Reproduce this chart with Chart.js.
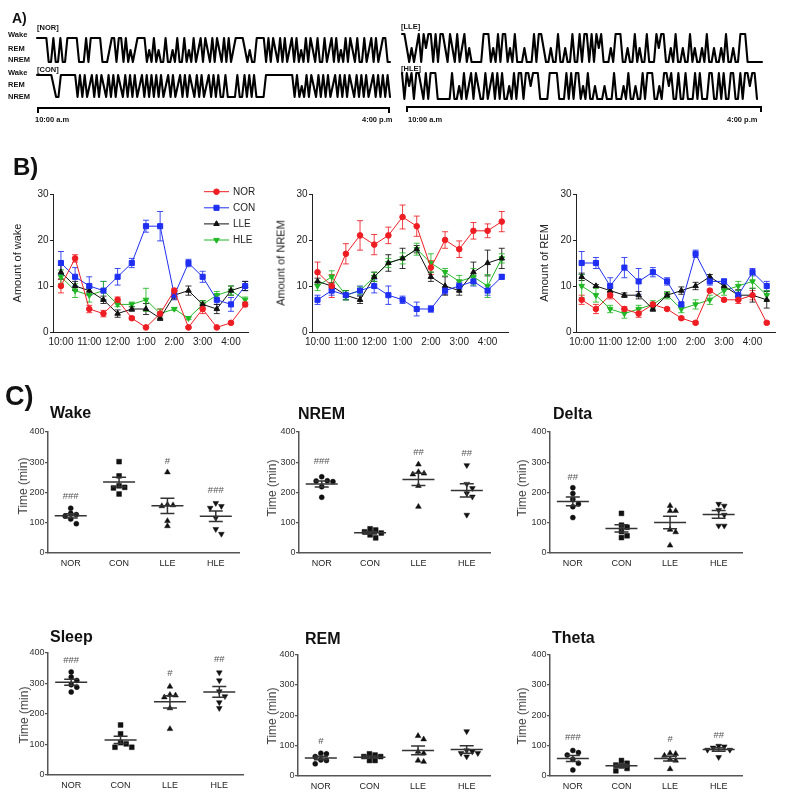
<!DOCTYPE html>
<html><head><meta charset="utf-8">
<script src="https://cdn.jsdelivr.net/npm/chart.js@4.4.0/dist/chart.umd.min.js"></script>
<style>
html,body{margin:0;padding:0;background:#fff;}
#page{position:relative;width:789px;height:802px;overflow:hidden;font-family:'Liberation Sans',Arial,Helvetica,sans-serif;background:#fff;}
canvas.full{position:absolute;left:0;top:0;}
.t{position:absolute;white-space:nowrap;line-height:1;color:#111;}
.rot{transform:translate(-50%,-50%) rotate(-90deg);}
.br{position:absolute;box-sizing:border-box;border:2px solid #000;border-bottom:none;height:6px;}
</style></head>
<body><div id="page"></div>
<script>
// ---------------- DATA ----------------
// Panel A hypnograms (2 = Wake, 1 = REM, 0 = NREM)
const norStates = [2,2,2,2,2, 0,0,2,0,0,2,0,0,2, 2,2,2,2, 0,0,0,2,0, 2,2,2,2,2,0,
 0,0,1,2,2,0,2,2,0,2, 0,1,0,1, 2,2,2,2, 0,1,0,2,0,1,0, 0,2,0,0,1,0,2,0,0,2,0,1,
 0,2,0,1,2,0,2,1,0,2,0,2,1,0,2,0,2,0,1,2, 2,2,2,1, 0,1,0,0, 2,2,2,2,
 0,2,0,2,1,0,2,0,2,0,1,2,0,
 2,0,1,0,2,0,2,1,0,2,0,0,2,0,1,2,0,2,0,1,0,2,0,2,1,0,2,0,0,2,0,1,2,0,2,0,1,2,2,0,0];
const conStates = [2,2,2,2,2,2,2, 1,0,0, 2,2,2,2,2,2,2, 0,
 2,0,2,0,1,2,0,2,0,2,1,0,2,0,2,0,2,1,0,2,0,2,0,2,0,1,2,0,2,0,2,0,2,
 0,2,0,1,2,0,2,0,1,2,0,2,0,2,1,0,2,0,2,0,1,2,0,2,0,2,0,0,2,0,0,
 0,0,2,0,0,2,0,2,0,2,0,0,0,0, 2,2,2,2,2,2,2,2,2,2,2,2,
 0,2,0,1,0,2,0,2,1,0,2,0,2,0,2,0,1,2,0,2,0,2,0,2,1,0,2,0,2,0,2,0,1,2,0,2,0,2,0,2,0];
const lleStates = [2,2,1, 0,1,0,1,2,0,2,1,2,2,0,2,0,2,2,1,0,2,1,0,2,0,1,2,0,1,0,0, 0,0,0,
 2,2,2,0, 1,0,2,0, 2,2,0, 1,0,2,0,0, 0,1,0,0,0, 2,0, 2,2,1,0,
 0,1,0,0,2,0,0,1,0,0,2,0,0, 2,0, 2,2,0, 2,0,2,1,2,0, 0,0,1,0, 2,2,2,0,
 0,1,0,0,2,0,1,0,0,2,0,0,0, 2,1,2,2,0,
 0,1,0,2,0,0,1,0,0,2,0,1,0,0,1,0,2,0,0,1,0,0,1,0,2,0,0,1,0,0, 2,2,2,0, 0,0,0,0,0,0];
const hleStates = [2,0,2,1,2,0,2,2,1,0,2,0, 2,2,2,0, 0,0,0,0,0, 2,0, 0,1,0,2,0,1, 2,0,2,1,0,
 0,2,0,1,2,0,2,0,2,0, 0,1,0, 2,0,2,2,0,2,2,1,2,2,2,0, 0,0,0, 2,2,2,2,0,0, 0,2,0,
 2,0,2,2,0,1, 0,2,0,0,1,0, 0,0,1,0,0,0,2,0,0,0,1,0, 2,0, 0,1,0,0,2,0, 2,2,2,0, 0,1,0,
 2,2,1,2,0, 0,2,0,0,2,0,0,0,2,0,2,0,0,0,2,2,0,0,2,0,2,0,0,2,2,0,0,2,0, 2,2,1,2,2,0];

// Panel B (half-hour bins 10:00 ... 4:30)
const hourTicks = [0,2,4,6,8,10,12];
const hourLabels = ['10:00','11:00','12:00','1:00','2:00','3:00','4:00'];
const seriesNames = ['NOR','CON','LLE','HLE'];

const wakeNOR = [10,16,5,4,7,3,1,4,9,1,5,1,2,6];
const wakeNORe = [1.5,0.8,0.8,0.7,0.6,0.3,0.2,1,0.5,0.2,1,0.2,0.3,0.5];
const wakeCON = [15,12,10,9,12,15,23,23,8,15,12,7,6,10];
const wakeCONe = [2.5,2,2,2,1.8,1,1.3,3.2,1,0.8,1.2,1,1.5,1];
const wakeLLE = [13,10,9,7,4,5,5,3,8,9,6,5,9,10];
const wakeLLEe = [1.5,1,0.8,0.8,0.8,0.5,1.2,0.5,0.8,1,0.8,1,1,1];
const wakeHLE = [12,9,8,9,6,6,7,4,5,3,6,8,9,7];
const wakeHLEe = [1.5,1.5,1.5,2,0.5,0.5,2.5,1,0.3,0.3,0.8,0.8,1,0.6];

const nremNOR = [13,10,17,21,19,21,25,23,14,20,18,22,22,24];
const nremNORe = [2.2,2.5,2.2,3.2,2.2,1.8,2.6,2.2,1.5,1.8,1.8,1.8,1.5,2.2];
const nremCON = [7,9,8,9,10,8,7,5,5,9,10,11,9,12];
const nremCONe = [1,1,1,1,1.5,2,0.8,1.5,0.7,0.8,0.8,1,1,0.5];
const nremLLE = [11,10,8,7,12,15,16,18,12,10,9,13,15,16];
const nremLLEe = [0.7,0.7,1,0.8,1,1.8,2.2,0.8,1,2,1,2.2,2.8,2.2];
const nremHLE = [10,12,8,9,12,15,16,18,15,13,11,12,10,16];
const nremHLEe = [1,1.3,1,0.8,1,1,1.2,1.3,2,0.8,1.3,1.8,2.5,1];

const remNOR = [7,5,8,5,4,6,5,3,2,9,7,7,8,2];
const remNORe = [1,1,0.8,0.5,0.8,0.3,0.3,0.3,0.3,0.3,0.3,0.8,1,0.3];
const remCON = [15,15,10,14,11,13,11,6,17,11,11,8,13,10];
const remCONe = [2.5,1.2,1.8,2.2,2.8,1,0.8,0.5,0.8,0.8,0.5,1,0.8,1];
const remLLE = [12,10,9,8,8,5,8,9,10,12,10,8,8,7];
const remLLEe = [0.8,0.3,0.5,0.5,0.8,0.5,0.5,0.8,0.8,0.5,0.5,1.2,1.5,1.8];
const remHLE = [10,8,5,4,5,6,8,5,6,7,9,10,11,8];
const remHLEe = [2.5,1.5,0.8,1,0.8,0.8,0.8,0.8,1,1,1,1,1.5,1];

// Panel C (minutes per animal; groups NOR, CON, LLE, HLE)
const groups = ['NOR','CON','LLE','HLE'];
const cTicks = [0,100,200,300,400];
const wakePts  = [[148,131,127,122,112,97],[302,255,222,217,215,195],[267,160,158,155,106,89],[165,155,149,116,79,63]];
const wakeMarks = ['###','','#','###'];
const wakeMarkY = [188,0,302,208];
const nremPts  = [[252,239,238,236,219,184],[80,76,70,66,60,50],[293,268,263,260,222,153],[290,228,214,197,186,126]];
const nremMarks = ['###','','##','##'];
const nremMarkY = [304,0,331,329];
const deltaPts = [[216,197,178,162,153,117],[131,92,85,71,57,51],[156,139,139,77,69,25],[162,156,142,126,90,90]];
const deltaMarks = ['##','','',''];
const deltaMarkY = [250,0,0,0];
const sleepPts = [[338,321,310,296,288,272],[164,135,106,102,91,91],[290,263,261,255,219,151],[336,310,274,258,238,219]];
const sleepMarks = ['###','','#','##'];
const sleepMarkY = [376,0,332,378];
const remPts   = [[75,73,64,53,51,40],[73,69,64,64,51,51],[132,121,80,75,51,47],[147,84,80,75,75,64]];
const remMarks = ['#','','',''];
const remMarkY = [113,0,0,0];
const thetaPts = [[84,77,69,55,42,20],[51,42,36,33,25,17],[75,73,67,55,51,23],[99,97,93,86,86,62]];
const thetaMarks = ['###','','#','##'];
const thetaMarkY = [127,0,122,133];

// ---------------- RENDER ----------------
const W = 789, H = 802;
const page = document.getElementById('page');
const FONT = "'Liberation Sans', Arial, Helvetica, sans-serif";
Chart.defaults.font.family = FONT;
Chart.defaults.animation = false;

function mkCanvas(){ const c=document.createElement('canvas'); c.width=W; c.height=H; c.className='full'; page.appendChild(c); return c; }
function baseOpts(){ return {responsive:false, devicePixelRatio:1, events:[], plugins:{legend:{display:false}, tooltip:{enabled:false}}}; }
function txt(s, x, y, size, opt){
  opt = opt||{};
  const d=document.createElement('div'); d.className='t'+(opt.rot?' rot':''); d.textContent=s;
  d.style.left=x+'px'; d.style.top=y+'px'; d.style.fontSize=size+'px';
  if(opt.bold) d.style.fontWeight='bold';
  if(opt.color) d.style.color=opt.color;
  page.appendChild(d); return d;
}
function bracket(l, t, w){ const d=document.createElement('div'); d.className='br'; d.style.left=l+'px'; d.style.top=t+'px'; d.style.width=w+'px'; page.appendChild(d); }

// ---- Panel A ----
function hypno(area, states){
  const o = baseOpts();
  o.layout = {padding:{left:area.l, top:area.t, right:W-area.r, bottom:H-area.b}};
  o.scales = {x:{type:'linear', display:false, min:0, max:states.length-1}, y:{type:'linear', display:false, min:0, max:2}};
  new Chart(mkCanvas(), {type:'line', data:{datasets:[{data:states.map((v,i)=>({x:i,y:v})), borderColor:'#000', borderWidth:2.1, pointRadius:0, tension:0, clip:false, borderJoinStyle:'round', borderCapStyle:'round'}]}, options:o});
}
hypno({l:37, r:390, t:38, b:62}, norStates);
hypno({l:37, r:390, t:75, b:97}, conStates);
hypno({l:402, r:762, t:34, b:62}, lleStates);
hypno({l:402, r:757, t:73, b:99}, hleStates);

txt('A)', 12, 11, 14, {bold:true});
const aFs = 7.5;
txt('[NOR]', 37, 27.3-aFs/2, aFs, {bold:true});
txt('[CON]', 37, 69.3-aFs/2, aFs, {bold:true});
txt('[LLE]', 401, 26.7-aFs/2, aFs, {bold:true});
txt('[HLE]', 401, 68.3-aFs/2, aFs, {bold:true});
[['Wake',35],['REM',49],['NREM',59.3],['Wake',72.7],['REM',85],['NREM',96.7]].forEach(a=>txt(a[0], 8, a[1]-aFs/2, aFs, {bold:true}));
bracket(37, 107, 353);
bracket(406, 106, 356);
txt('10:00 a.m', 35, 120-aFs/2, aFs, {bold:true});
txt('4:00 p.m', 362, 120-aFs/2, aFs, {bold:true});
txt('10:00 a.m', 408, 120-aFs/2, aFs, {bold:true});
txt('4:00 p.m', 727, 120-aFs/2, aFs, {bold:true});

// ---- Panel B ----
const seriesStyle = [
  {color:'#ee1d23', style:'circle',   r:2.8, rot:0},
  {color:'#1e2ff2', style:'rect',     r:3.6, rot:0},
  {color:'#111111', style:'triangle', r:3.2, rot:0},
  {color:'#21b825', style:'triangle', r:3.2, rot:180}];
const errPlugin = {id:'errbars', beforeDatasetsDraw(chart){
  const ctx=chart.ctx, xs=chart.scales.x, ys=chart.scales.y;
  chart.data.datasets.forEach(ds=>{
    ctx.save(); ctx.strokeStyle=ds.borderColor; ctx.lineWidth=1; ctx.globalAlpha=0.85;
    ds.data.forEach((p,i)=>{ const e=ds.err[i]; if(!e) return;
      const x=xs.getPixelForValue(p.x), y1=ys.getPixelForValue(p.y+e), y2=ys.getPixelForValue(p.y-e);
      ctx.beginPath(); ctx.moveTo(x,y1); ctx.lineTo(x,y2);
      ctx.moveTo(x-3,y1); ctx.lineTo(x+3,y1); ctx.moveTo(x-3,y2); ctx.lineTo(x+3,y2); ctx.stroke(); });
    ctx.restore(); });
}};
const legendPlugin = {id:'inlegend', afterDraw(chart){
  const ctx=chart.ctx, a=chart.chartArea;
  chart.data.datasets.forEach((ds,i)=>{
    const y=a.top-2.3+i*16.1, x0=a.right-44, x1=a.right-19;
    ctx.save(); ctx.strokeStyle=ds.borderColor; ctx.fillStyle=ds.borderColor; ctx.lineWidth=1;
    ctx.beginPath(); ctx.moveTo(x0,y); ctx.lineTo(x1,y); ctx.stroke();
    Chart.helpers.drawPoint(ctx,{pointStyle:ds.pointStyle, rotation:ds.pointRotation, radius:ds.pointRadius, borderWidth:1}, (x0+x1)/2, y);
    ctx.fillStyle='#222'; ctx.font='10px '+FONT; ctx.textAlign='left'; ctx.textBaseline='middle';
    ctx.fillText(ds.label, a.right-15, y+0.5); ctx.restore(); });
}};
function lineChart(area, xr, vals, errs, withLegend){
  const yW=32, xH=22;
  const o = baseOpts();
  o.layout = {padding:{left:area.l-yW, top:area.t, right:W-area.r, bottom:H-area.b-xH}};
  o.scales = {
    x:{type:'linear', min:xr[0], max:xr[1], afterFit:s=>{s.height=xH;},
       afterBuildTicks:s=>{s.ticks=hourTicks.map(v=>({value:v}));},
       ticks:{autoSkip:false, maxRotation:0, padding:4, color:'#222', font:{size:10}, callback:(v,i)=>hourLabels[i]},
       grid:{display:true, drawOnChartArea:false, drawTicks:false}, border:{display:true, color:'#222', width:1}},
    y:{type:'linear', min:0, max:30, afterFit:s=>{s.width=yW;},
       afterBuildTicks:s=>{s.ticks=[0,10,20,30].map(v=>({value:v}));},
       ticks:{padding:1.5, color:'#222', font:{size:10}},
       grid:{display:true, drawOnChartArea:false, drawTicks:true, tickLength:3, color:'#222'}, border:{display:true, color:'#222', width:1}}
  };
  const datasets = seriesStyle.map((s,k)=>({label:seriesNames[k], data:vals[k].map((v,i)=>({x:i,y:v})), err:errs[k],
    borderColor:s.color, backgroundColor:s.color, borderWidth:1, pointStyle:s.style, pointRotation:s.rot, pointRadius:s.r,
    pointBorderWidth:1, pointBorderColor:s.color, pointBackgroundColor:s.color, tension:0, clip:false}));
  new Chart(mkCanvas(), {type:'line', data:{datasets}, options:o, plugins: withLegend?[errPlugin,legendPlugin]:[errPlugin]});
}
lineChart({l:53, r:248, t:194, b:332}, [-0.56,13.2], [wakeNOR,wakeCON,wakeLLE,wakeHLE], [wakeNORe,wakeCONe,wakeLLEe,wakeHLEe], true);
lineChart({l:312, r:508, t:194, b:332}, [-0.39,13.44], [nremNOR,nremCON,nremLLE,nremHLE], [nremNORe,nremCONe,nremLLEe,nremHLEe], false);
lineChart({l:576, r:775, t:194, b:332}, [-0.4,13.58], [remNOR,remCON,remLLE,remHLE], [remNORe,remCONe,remLLEe,remHLEe], false);

txt('B)', 13, 155, 24, {bold:true});
txt('Amount of wake', 17, 263, 11, {rot:true, color:'#222'});
txt('Amount of NREM', 281, 263, 11, {rot:true, color:'#222'});
txt('Amount of REM', 544, 263, 11, {rot:true, color:'#222'});

// ---- Panel C ----
const groupStyle = [{style:'circle',r:2.5,rot:0},{style:'rect',r:3.4,rot:0},{style:'triangle',r:3.3,rot:0},{style:'triangle',r:3.3,rot:180}];
const cXR = [-0.47, 3.48];
function swarm(vals, g, pxV, pxC){
  const step=5.6, lim=4.9, placed=[];
  const order = vals.map((v,i)=>i).sort((a,b)=>vals[b]-vals[a]);
  const out = new Array(vals.length);
  order.forEach(i=>{
    const v=vals[i];
    for(let k=0;k<20;k++){
      const m = k===0?0:(k%2? Math.ceil(k/2): -Math.ceil(k/2));
      const ox=m*step;
      const hit = placed.some(p=>Math.hypot(ox-p.ox,(v-p.v)*pxV)<lim);
      if(!hit){ placed.push({ox,v}); out[i]={x:g+ox/pxC, y:v}; break; }
    }
  });
  return out;
}
function dotChart(area, pts, marks, markY){
  const yW=30, xH=22;
  const pxV=(area.b-area.t)/400, pxC=(area.r-area.l)/(cXR[1]-cXR[0]);
  const o = baseOpts();
  o.layout = {padding:{left:area.l-yW, top:area.t, right:W-area.r, bottom:H-area.b-xH}};
  o.scales = {
    x:{type:'linear', min:cXR[0], max:cXR[1], afterFit:s=>{s.height=xH;},
       afterBuildTicks:s=>{s.ticks=groups.map((g,i)=>({value:i}));},
       ticks:{autoSkip:false, maxRotation:0, padding:5, color:'#222', font:{size:9}, callback:(v,i)=>groups[i]},
       grid:{display:true, drawOnChartArea:false, drawTicks:false}, border:{display:true, color:'#555', width:1.5}},
    y:{type:'linear', min:0, max:400, afterFit:s=>{s.width=yW;},
       afterBuildTicks:s=>{s.ticks=cTicks.map(v=>({value:v}));},
       ticks:{padding:0.5, color:'#333', font:{size:9}},
       grid:{display:true, drawOnChartArea:false, drawTicks:true, tickLength:3, color:'#555', lineWidth:1.2}, border:{display:true, color:'#555', width:1.5}}
  };
  const datasets = pts.map((vals,g)=>({data:swarm(vals,g,pxV,pxC), showLine:false, pointStyle:groupStyle[g].style, pointRotation:groupStyle[g].rot,
    pointRadius:groupStyle[g].r, pointBackgroundColor:'#111', pointBorderColor:'#111', pointBorderWidth:0.5, clip:false}));
  const statPlugin = {id:'stats', afterDatasetsDraw(chart){
    const ctx=chart.ctx, xs=chart.scales.x, ys=chart.scales.y;
    pts.forEach((vals,g)=>{
      const n=vals.length, m=vals.reduce((a,b)=>a+b,0)/n;
      const sd=Math.sqrt(vals.reduce((a,b)=>a+(b-m)*(b-m),0)/(n-1)), se=sd/Math.sqrt(n);
      const x=xs.getPixelForValue(g), ym=ys.getPixelForValue(m), yt=ys.getPixelForValue(m+se), yb=ys.getPixelForValue(m-se);
      ctx.save(); ctx.strokeStyle='#333'; ctx.lineWidth=1.5;
      ctx.beginPath(); ctx.moveTo(x-16,ym); ctx.lineTo(x+16,ym);
      ctx.moveTo(x,yt); ctx.lineTo(x,yb);
      ctx.moveTo(x-7,yt); ctx.lineTo(x+7,yt); ctx.moveTo(x-7,yb); ctx.lineTo(x+7,yb); ctx.stroke();
      if(marks[g]){ ctx.fillStyle='#555'; ctx.font='9.5px '+FONT; ctx.textAlign='center'; ctx.textBaseline='middle';
        ctx.fillText(marks[g], x, ys.getPixelForValue(markY[g])); }
      ctx.restore(); });
  }};
  new Chart(mkCanvas(), {type:'scatter', data:{datasets}, options:o, plugins:[statPlugin]});
}
dotChart({l:48,  r:239, t:432, b:553}, wakePts, wakeMarks, wakeMarkY);
dotChart({l:299, r:490, t:432, b:553}, nremPts, nremMarks, nremMarkY);
dotChart({l:550, r:742, t:432, b:553}, deltaPts, deltaMarks, deltaMarkY);
dotChart({l:48,  r:243, t:653, b:775}, sleepPts, sleepMarks, sleepMarkY);
dotChart({l:298, r:490, t:654.5, b:776}, remPts, remMarks, remMarkY);
dotChart({l:550, r:742, t:654.5, b:776}, thetaPts, thetaMarks, thetaMarkY);

txt('C)', 5, 383, 27, {bold:true});
txt('Wake', 50, 405, 16, {bold:true});
txt('NREM', 298, 406, 16, {bold:true});
txt('Delta', 553, 406, 16, {bold:true});
txt('Sleep', 50, 629, 16, {bold:true});
txt('REM', 305, 631, 16, {bold:true});
txt('Theta', 552, 630, 16, {bold:true});
[[23,486],[272,488],[522,488],[24,715],[272,716],[522,716]].forEach(p=>txt('Time (min)', p[0], p[1], 12, {rot:true, color:'#444'}));
</script>
</body></html>
